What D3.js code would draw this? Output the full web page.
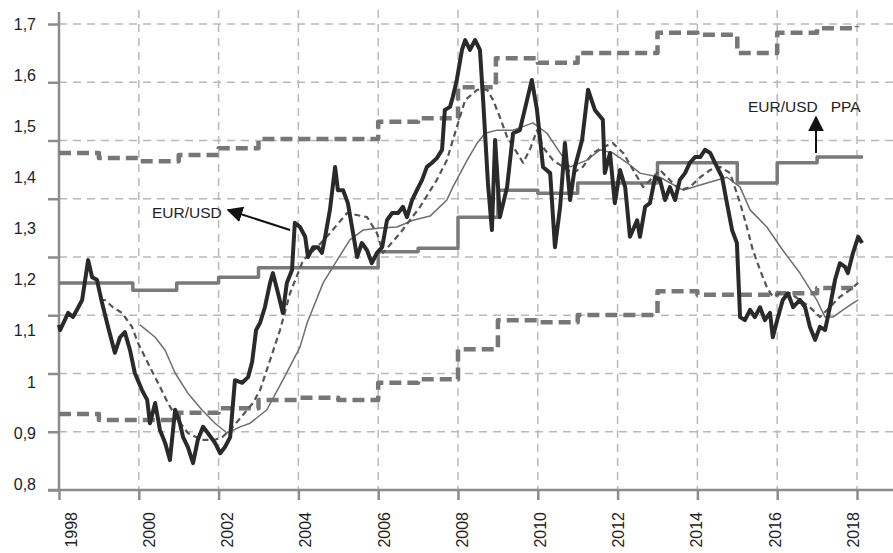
<!DOCTYPE html>
<html>
<head>
<meta charset="utf-8">
<script src="https://cdn.jsdelivr.net/npm/d3@7/dist/d3.min.js"></script>
<style>
  body { margin: 0; background: #fff; }
  svg text { font-family: "Liberation Sans", Arial, sans-serif; fill: #222; }
</style>
</head>
<body>
<svg id="chart" width="893" height="553"></svg>
<script>
// tick labels
var xTickYears = [1998, 2000, 2002, 2004, 2006, 2008, 2010, 2012, 2014, 2016, 2018];
var yTickValues = [0.8, 0.9, 1.0, 1.1, 1.2, 1.3, 1.4, 1.5, 1.6, 1.7];
var yTickLabels = ["0,8", "0,9", "1", "1,1", "1,2", "1,3", "1,4", "1,5", "1,6", "1,7"];

// EUR/USD (monthly) [year, value]
var eurusd = [[1998.00,1.119],[1998.03,1.109],[1998.23,1.142],[1998.35,1.134],[1998.45,1.148],[1998.58,1.167],[1998.73,1.244],[1998.83,1.211],[1998.95,1.206],[1999.08,1.161],[1999.23,1.115],[1999.40,1.065],[1999.53,1.095],[1999.65,1.105],[1999.78,1.070],[1999.90,1.026],[2000.08,0.993],[2000.21,0.974],[2000.28,0.929],[2000.41,0.968],[2000.53,0.916],[2000.66,0.891],[2000.78,0.858],[2000.91,0.955],[2001.03,0.929],[2001.11,0.902],[2001.23,0.883],[2001.36,0.852],[2001.48,0.897],[2001.61,0.922],[2001.73,0.910],[2001.91,0.891],[2002.04,0.871],[2002.16,0.883],[2002.29,0.902],[2002.41,1.012],[2002.59,1.007],[2002.74,1.018],[2002.84,1.047],[2002.94,1.109],[2003.04,1.123],[2003.16,1.153],[2003.29,1.200],[2003.36,1.219],[2003.49,1.180],[2003.61,1.142],[2003.71,1.200],[2003.84,1.225],[2003.91,1.316],[2004.04,1.308],[2004.17,1.289],[2004.24,1.250],[2004.37,1.269],[2004.49,1.269],[2004.59,1.258],[2004.67,1.289],[2004.79,1.341],[2004.92,1.424],[2004.99,1.379],[2005.12,1.379],[2005.24,1.354],[2005.37,1.296],[2005.47,1.250],[2005.59,1.277],[2005.72,1.263],[2005.84,1.238],[2005.97,1.258],[2006.10,1.269],[2006.22,1.321],[2006.35,1.335],[2006.50,1.335],[2006.62,1.347],[2006.72,1.327],[2006.85,1.360],[2006.97,1.379],[2007.10,1.399],[2007.22,1.424],[2007.35,1.432],[2007.47,1.441],[2007.60,1.457],[2007.67,1.534],[2007.80,1.540],[2007.87,1.559],[2007.97,1.592],[2008.10,1.650],[2008.18,1.669],[2008.30,1.650],[2008.43,1.669],[2008.55,1.650],[2008.63,1.553],[2008.75,1.393],[2008.85,1.302],[2008.93,1.476],[2009.05,1.327],[2009.23,1.385],[2009.38,1.489],[2009.55,1.495],[2009.73,1.553],[2009.85,1.592],[2009.98,1.534],[2010.13,1.424],[2010.31,1.412],[2010.43,1.269],[2010.56,1.347],[2010.68,1.470],[2010.81,1.360],[2010.93,1.424],[2011.11,1.476],[2011.26,1.573],[2011.43,1.534],[2011.63,1.515],[2011.68,1.412],[2011.81,1.451],[2011.93,1.354],[2012.06,1.418],[2012.19,1.385],[2012.31,1.289],[2012.49,1.321],[2012.56,1.289],[2012.69,1.347],[2012.81,1.354],[2012.94,1.404],[2013.06,1.399],[2013.19,1.360],[2013.31,1.385],[2013.44,1.360],[2013.56,1.399],[2013.69,1.412],[2013.81,1.432],[2013.94,1.443],[2014.07,1.443],[2014.19,1.457],[2014.32,1.451],[2014.44,1.432],[2014.62,1.404],[2014.74,1.354],[2014.87,1.302],[2014.99,1.277],[2015.07,1.134],[2015.19,1.128],[2015.32,1.148],[2015.44,1.134],[2015.57,1.153],[2015.69,1.128],[2015.82,1.142],[2015.89,1.095],[2016.02,1.134],[2016.14,1.167],[2016.27,1.180],[2016.40,1.153],[2016.57,1.167],[2016.70,1.153],[2016.82,1.115],[2016.95,1.090],[2017.07,1.115],[2017.20,1.109],[2017.32,1.153],[2017.45,1.206],[2017.57,1.238],[2017.70,1.231],[2017.77,1.219],[2017.90,1.258],[2018.03,1.289],[2018.13,1.277]];

// short moving average (dashed)
var maShort = [[1999.03,1.167],[1999.15,1.167],[1999.35,1.153],[1999.58,1.142],[1999.83,1.115],[1999.98,1.084],[2000.23,1.045],[2000.48,1.007],[2000.73,0.968],[2000.98,0.935],[2001.23,0.910],[2001.58,0.897],[2001.91,0.897],[2002.09,0.902],[2002.36,0.922],[2002.86,0.968],[2003.04,0.993],[2003.29,1.051],[2003.54,1.109],[2003.79,1.180],[2004.12,1.244],[2004.47,1.269],[2004.79,1.296],[2005.22,1.335],[2005.72,1.327],[2005.97,1.296],[2006.12,1.258],[2006.55,1.296],[2007.05,1.347],[2007.47,1.399],[2007.72,1.437],[2007.97,1.501],[2008.18,1.553],[2008.48,1.573],[2008.73,1.573],[2008.88,1.553],[2009.05,1.520],[2009.23,1.482],[2009.48,1.451],[2009.63,1.432],[2009.80,1.457],[2009.98,1.495],[2010.13,1.462],[2010.38,1.437],[2010.63,1.424],[2010.88,1.412],[2011.13,1.424],[2011.38,1.451],[2011.63,1.462],[2011.88,1.470],[2012.14,1.451],[2012.39,1.418],[2012.64,1.385],[2012.89,1.404],[2013.06,1.418],[2013.56,1.379],[2013.81,1.385],[2014.07,1.404],[2014.32,1.418],[2014.57,1.424],[2014.82,1.412],[2015.07,1.354],[2015.24,1.308],[2015.39,1.263],[2015.57,1.225],[2015.74,1.192],[2015.89,1.173],[2016.07,1.180],[2016.32,1.180],[2016.57,1.167],[2016.82,1.153],[2017.07,1.134],[2017.32,1.153],[2017.57,1.173],[2017.82,1.186],[2018.03,1.200]];

// long moving average (thin)
var maLong = [[2000.03,1.119],[2000.41,1.095],[2000.66,1.070],[2000.91,1.026],[2001.23,0.987],[2001.58,0.955],[2001.91,0.929],[2002.21,0.910],[2002.54,0.922],[2002.79,0.929],[2003.21,0.955],[2003.61,1.012],[2004.04,1.076],[2004.22,1.123],[2004.62,1.200],[2004.97,1.244],[2005.29,1.283],[2005.62,1.302],[2006.05,1.306],[2006.47,1.308],[2006.87,1.321],[2007.30,1.329],[2007.72,1.360],[2007.87,1.385],[2008.23,1.437],[2008.48,1.470],[2008.68,1.489],[2008.98,1.495],[2009.38,1.495],[2009.88,1.509],[2010.23,1.489],[2010.56,1.451],[2010.81,1.424],[2011.23,1.437],[2011.56,1.457],[2011.88,1.451],[2012.24,1.432],[2012.56,1.412],[2013.06,1.404],[2013.64,1.379],[2014.24,1.393],[2014.74,1.404],[2015.07,1.385],[2015.32,1.341],[2015.74,1.308],[2016.14,1.263],[2016.57,1.219],[2016.99,1.167],[2017.20,1.134],[2017.40,1.134],[2017.65,1.148],[2017.90,1.161],[2018.03,1.167]];

// EUR/USD PPA (steps)
var ppa = [[1998,1.200],[1999.85,1.186],[2000.95,1.200],[2002,1.211],[2003,1.229],[2006,1.260],[2007,1.267],[2008,1.327],[2009,1.379],[2010,1.373],[2011,1.393],[2013,1.432],[2015,1.393],[2016,1.432],[2017,1.443],[2018.15,1.443]];

// upper and lower bands (steps)
var upperBand = [[1998,1.451],[1999,1.441],[2000,1.435],[2001,1.447],[2002,1.460],[2003,1.478],[2006,1.511],[2007,1.518],[2008,1.578],[2008.95,1.634],[2010,1.625],[2011,1.644],[2013,1.683],[2014,1.679],[2015,1.644],[2016,1.683],[2017,1.692],[2018,1.696]];
var lowerBand = [[1998,0.947],[1999,0.935],[2001,0.949],[2002,0.958],[2003,0.974],[2004,0.978],[2005,0.974],[2006,1.007],[2007,1.014],[2008,1.072],[2009,1.128],[2010,1.124],[2011,1.138],[2013,1.184],[2014,1.177],[2016,1.180],[2017,1.190],[2018,1.192]];

var svg = d3.select("#chart");

var x = d3.scaleLinear().domain([1998, 2018]).range([59, 857]);
var y = d3.scaleLinear().domain([0.8, 1.7]).range([490, 24]);
// the printed labels sit on a slightly tighter spacing than the grid
var xLabel = d3.scaleLinear().domain([1998, 2018]).range([71, 853]);
var yLabel = d3.scaleLinear().domain([0.8, 1.7]).range([484, 24]);
var gridValues = d3.range(9).map(function(i) { return 0.8 + i * 0.9 / 8; });

var gridColour = "#b9b9b9";
var axisColour = "#8c8c8c";

// grid
svg.append("g").selectAll("line.hg")
    .data(gridValues.slice(1))
  .enter().append("line")
    .attr("x1", x(1998)).attr("x2", 893)
    .attr("y1", function(d) { return y(d); })
    .attr("y2", function(d) { return y(d); })
    .attr("stroke", gridColour).attr("stroke-width", 1.5)
    .attr("stroke-dasharray", "8,6");

svg.append("g").selectAll("line.vg")
    .data(xTickYears.slice(1))
  .enter().append("line")
    .attr("x1", function(d) { return x(d); })
    .attr("x2", function(d) { return x(d); })
    .attr("y1", 10).attr("y2", y(0.8))
    .attr("stroke", gridColour).attr("stroke-width", 1.5)
    .attr("stroke-dasharray", "8,6");

// axes
var xAxis = svg.append("g")
    .attr("transform", "translate(0," + y(0.8) + ")")
    .call(d3.axisBottom(x).tickValues(xTickYears).tickSize(10).tickFormat(""));
xAxis.select(".domain").remove();
xAxis.selectAll("line").attr("stroke", axisColour).attr("stroke-width", 2.5);

var yAxis = svg.append("g")
    .attr("transform", "translate(" + x(1998) + ",0)")
    .call(d3.axisLeft(y).tickValues(gridValues).tickSize(11).tickFormat(""));
yAxis.select(".domain").remove();
yAxis.selectAll("line").attr("stroke", axisColour).attr("stroke-width", 2.5);

svg.append("line")
    .attr("x1", 48).attr("x2", 893)
    .attr("y1", y(0.8)).attr("y2", y(0.8))
    .attr("stroke", axisColour).attr("stroke-width", 2.5);
svg.append("line")
    .attr("x1", x(1998)).attr("x2", x(1998))
    .attr("y1", 12).attr("y2", y(0.8))
    .attr("stroke", axisColour).attr("stroke-width", 2.5);

// tick labels
svg.append("g").selectAll("text")
    .data(yTickValues)
  .enter().append("text")
    .attr("x", 36)
    .attr("y", function(d) { return yLabel(d); })
    .attr("dy", "0.36em")
    .attr("text-anchor", "end")
    .style("font-size", "16px")
    .text(function(d, i) { return yTickLabels[i]; });

svg.append("g").selectAll("text")
    .data(xTickYears)
  .enter().append("text")
    .attr("transform", function(d) { return "translate(" + xLabel(d) + ",512) rotate(-90)"; })
    .attr("dy", "0.36em")
    .attr("text-anchor", "end")
    .style("font-size", "16px")
    .text(function(d) { return d; });

// series
var line = d3.line()
    .x(function(d) { return x(d[0]); })
    .y(function(d) { return y(d[1]); });
var stepLine = d3.line()
    .x(function(d) { return x(d[0]); })
    .y(function(d) { return y(d[1]); })
    .curve(d3.curveStepAfter);

function draw(data, gen, colour, width, dash) {
  svg.append("path")
      .datum(data)
      .attr("d", gen)
      .attr("fill", "none")
      .attr("stroke", colour)
      .attr("stroke-width", width)
      .attr("stroke-dasharray", dash || null)
      .attr("stroke-linejoin", "round");
}

draw(upperBand, stepLine, "#777", 4.5, "12,6");
draw(lowerBand, stepLine, "#777", 4.5, "12,6");
draw(ppa, stepLine, "#7a7a7a", 3.5);
draw(maLong, line, "#6e6e6e", 1.5);
draw(maShort, line, "#555", 2.2, "6,4");
draw(eurusd, line, "#2a2a2a", 4);

// annotations
svg.append("defs").append("marker")
    .attr("id", "head")
    .attr("viewBox", "0 0 10 10")
    .attr("refX", 9).attr("refY", 5)
    .attr("markerWidth", 16).attr("markerHeight", 16)
    .attr("markerUnits", "userSpaceOnUse")
    .attr("orient", "auto")
  .append("path")
    .attr("d", "M0,0L10,5L0,10z")
    .attr("fill", "#111");

svg.append("text")
    .attr("x", 152).attr("y", 218)
    .style("font-size", "15.5px")
    .text("EUR/USD");
svg.append("line")
    .attr("x1", 290).attr("y1", 230)
    .attr("x2", 228).attr("y2", 210)
    .attr("stroke", "#111").attr("stroke-width", 2)
    .attr("marker-end", "url(#head)");

svg.append("text")
    .attr("x", 748).attr("y", 112)
    .style("font-size", "15.5px")
    .style("white-space", "pre")
    .attr("xml:space", "preserve")
    .text("EUR/USD   PPA");
svg.append("line")
    .attr("x1", 816).attr("y1", 153)
    .attr("x2", 816).attr("y2", 117)
    .attr("stroke", "#111").attr("stroke-width", 2)
    .attr("marker-end", "url(#head)");
</script>
</body>
</html>
